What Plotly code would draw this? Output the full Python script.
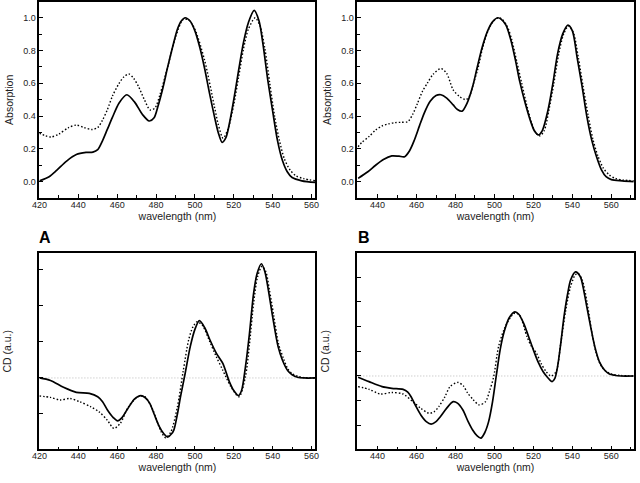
import plotly.graph_objects as go

# ---------------- data ----------------
# Panel A absorption
absA_sol_wl = [420, 425, 429, 434, 439, 444, 447.5, 450, 452.5, 455, 457.5, 461, 465, 469, 473, 476.5, 479, 481, 483.5, 486, 488.5, 491, 493, 495, 497.5, 500, 502.5, 505, 507.5, 510, 512, 514, 516, 518, 520, 522.5, 525, 527.5, 530.5, 533, 535, 537.5, 540, 542.5, 545, 547.5, 550, 555, 562]
absA_sol = [0.005, 0.03, 0.07, 0.125, 0.165, 0.178, 0.18, 0.195, 0.25, 0.32, 0.39, 0.48, 0.53, 0.485, 0.41, 0.37, 0.39, 0.46, 0.57, 0.70, 0.82, 0.93, 0.98, 1.0, 0.98, 0.92, 0.82, 0.69, 0.54, 0.40, 0.30, 0.24, 0.27, 0.37, 0.50, 0.68, 0.85, 0.97, 1.045, 0.98, 0.84, 0.62, 0.43, 0.25, 0.13, 0.06, 0.025, 0.005, -0.005]
absA_dot_wl = [420, 423, 426, 430, 435, 439, 443, 447, 450, 452.5, 455, 457.5, 461, 463.5, 466, 468.5, 471, 474, 477, 479.5, 482, 486, 490, 494, 497, 500, 505, 510, 512, 514.5, 517, 520, 522.5, 525, 527.5, 531, 533.5, 536, 538.5, 541, 543.5, 546, 549, 552, 556, 562]
absA_dot = [0.295, 0.28, 0.272, 0.29, 0.33, 0.345, 0.33, 0.318, 0.33, 0.376, 0.44, 0.52, 0.60, 0.64, 0.657, 0.63, 0.58, 0.50, 0.437, 0.45, 0.53, 0.70, 0.88, 0.99, 0.985, 0.93, 0.74, 0.46, 0.35, 0.265, 0.32, 0.47, 0.64, 0.81, 0.93, 1.0, 0.95, 0.81, 0.60, 0.40, 0.25, 0.14, 0.07, 0.035, 0.018, 0.005]

# Panel B absorption
absB_sol_wl = [430, 435, 439, 443, 447.3, 451, 453.9, 456.5, 458.9, 461.5, 463.9, 467, 470, 472.5, 475.5, 478.8, 481, 483.4, 486, 488.8, 491, 493.7, 496.5, 499, 501.7, 503.5, 505.9, 508.5, 510.8, 513, 515.8, 518.5, 520.5, 522.5, 524.5, 527.5, 530, 532.4, 535, 537.7, 540, 542.4, 545, 547.4, 550, 552.4, 555, 557.3, 560, 565.6, 571.5]
absB_sol = [0.02, 0.06, 0.10, 0.135, 0.157, 0.155, 0.152, 0.19, 0.254, 0.34, 0.417, 0.49, 0.525, 0.53, 0.51, 0.468, 0.44, 0.43, 0.48, 0.58, 0.69, 0.82, 0.92, 0.975, 1.0, 0.99, 0.955, 0.86, 0.74, 0.61, 0.478, 0.37, 0.31, 0.285, 0.31, 0.437, 0.60, 0.78, 0.90, 0.955, 0.92, 0.76, 0.58, 0.40, 0.25, 0.152, 0.07, 0.03, 0.012, 0.005, 0.0]
absB_dot_wl = [430, 432, 435.6, 439, 442.3, 445.5, 448.9, 452, 455.5, 458, 460.5, 463, 465.5, 468.5, 472.5, 475.5, 478.8, 482, 485.4, 487.5, 489, 491.5, 494, 497, 499.5, 502, 504, 506.5, 509, 511.5, 514, 516.5, 519, 521, 523.3, 525.5, 528, 530.5, 533, 535.5, 538, 540.5, 543, 545.5, 548, 550.5, 553, 556, 559, 562, 566, 571.5]
absB_dot = [0.213, 0.24, 0.275, 0.315, 0.34, 0.352, 0.36, 0.362, 0.366, 0.41, 0.478, 0.55, 0.60, 0.655, 0.69, 0.66, 0.56, 0.52, 0.50, 0.53, 0.59, 0.69, 0.82, 0.93, 0.98, 1.0, 0.99, 0.95, 0.86, 0.73, 0.60, 0.47, 0.36, 0.30, 0.28, 0.31, 0.44, 0.60, 0.78, 0.90, 0.95, 0.91, 0.76, 0.58, 0.41, 0.26, 0.16, 0.08, 0.04, 0.02, 0.01, 0.005]

# Panel A CD (arbitrary units)
cdA_sol_wl = [420, 425.7, 432.4, 439, 445.7, 450, 452.5, 455, 458, 460.2, 462.5, 465, 469, 472.2, 474.5, 476.7, 479, 481.7, 484, 486, 488, 489.2, 491, 492.6, 495, 497.6, 500, 502.3, 505, 507.7, 511, 514.3, 517.7, 520, 522.4, 524, 526, 528, 530.2, 532, 534.2, 536, 537.8, 540, 542.8, 545, 547.8, 550, 552.8, 556, 562]
cdA_sol = [0.0, -0.07, -0.26, -0.40, -0.43, -0.52, -0.66, -0.89, -1.10, -1.19, -1.10, -0.89, -0.58, -0.49, -0.55, -0.70, -1.0, -1.35, -1.55, -1.64, -1.55, -1.44, -1.0, -0.52, 0.13, 0.87, 1.35, 1.59, 1.40, 1.06, 0.69, 0.41, -0.10, -0.35, -0.49, -0.35, 0.31, 1.2, 2.35, 2.9, 3.17, 2.95, 2.44, 1.7, 0.87, 0.5, 0.2, 0.09, 0.02, 0.0, 0.0]
cdA_dot_wl = [420, 425.7, 430.7, 435.7, 440.7, 446.5, 450.7, 454.9, 458.3, 461.6, 465.8, 470.8, 474.2, 478.4, 482.6, 485, 487.6, 491, 494, 496.8, 499, 501.2, 504, 507.7, 511, 514.3, 518.5, 522.7, 526, 528, 530.2, 532.2, 534.5, 536.5, 538.3, 540.5, 543, 545.5, 547.8, 550, 552.8, 556, 562]
cdA_dot = [-0.50, -0.54, -0.61, -0.57, -0.66, -0.80, -0.94, -1.17, -1.40, -1.26, -0.80, -0.52, -0.52, -0.89, -1.49, -1.66, -1.50, -0.80, 0.2, 1.06, 1.42, 1.56, 1.45, 1.0, 0.59, 0.22, -0.24, -0.52, 0.04, 0.9, 2.07, 2.8, 3.10, 2.95, 2.45, 1.75, 0.95, 0.55, 0.25, 0.12, 0.05, 0.01, 0.0]

# Panel B CD (arbitrary units)
cdB_sol_wl = [430, 435.6, 442.3, 447.3, 453.1, 455.5, 457.2, 459.5, 462.2, 465, 467.5, 470, 472.2, 475.5, 478.8, 481, 483.8, 486.5, 488.8, 491, 493, 495, 497, 499, 501, 503, 505, 507.5, 510.5, 512.5, 515, 517.5, 520, 522.5, 525, 527.5, 529.6, 531, 532.4, 534, 535.7, 537.5, 539.1, 541.6, 544.1, 546, 547.4, 549.5, 551.5, 554, 556.5, 559, 561.5, 565, 571.5]
cdB_sol = [-0.05, -0.23, -0.43, -0.50, -0.54, -0.65, -0.84, -1.2, -1.58, -1.85, -1.95, -1.85, -1.65, -1.3, -1.04, -1.1, -1.38, -1.85, -2.19, -2.42, -2.52, -2.3, -1.85, -1.05, 0.05, 1.1, 1.8, 2.35, 2.6, 2.5, 2.13, 1.6, 1.05, 0.55, 0.17, -0.08, -0.23, -0.1, 0.38, 1.3, 2.4, 3.3, 3.89, 4.22, 4.02, 3.4, 2.81, 1.95, 1.19, 0.55, 0.24, 0.08, 0.03, 0.0, 0.0]
cdB_dot_wl = [430, 435.6, 441.4, 447.3, 453.1, 458.1, 462.2, 466.4, 469, 471.4, 474.5, 477.2, 481.3, 484, 486.3, 489, 492.1, 495.4, 497.5, 499.6, 502.1, 505, 508, 510.5, 513, 516.7, 519, 521.6, 524, 526.6, 529, 531.6, 534, 536.6, 539, 541.5, 543, 545, 547.5, 549.9, 552, 554.5, 557, 560, 565, 571.5]
cdB_dot = [-0.43, -0.54, -0.73, -0.67, -0.73, -1.04, -1.31, -1.51, -1.45, -1.24, -0.85, -0.43, -0.26, -0.4, -0.70, -0.95, -1.17, -1.04, -0.6, -0.03, 1.19, 1.9, 2.35, 2.55, 2.45, 1.59, 1.2, 0.92, 0.5, 0.17, 0.0, 0.17, 1.3, 2.67, 3.6, 4.1, 4.15, 3.9, 3.0, 1.8, 1.0, 0.45, 0.2, 0.08, 0.02, 0.0]

panel_labels = ["A", "B"]
x_title = "wavelength (nm)"
abs_title = "Absorption"
cd_title = "CD (a.u.)"

# ---------------- figure ----------------
W, H = 640, 483
fig = go.Figure()

def px_x(p):
    return p / W

def px_y(p):
    return (H - p) / H

dom_x_left = [px_x(32), px_x(313.3)]
dom_x_right = [px_x(356), px_x(637.7)]
dom_y_top = [px_y(198), px_y(1.7)]
dom_y_bot = [px_y(449.3), px_y(253.3)]

FONT = "Liberation Sans, Arial, sans-serif"
sol_line = dict(color="black", width=1.7, shape="spline", smoothing=0.8)
dot_line = dict(color="black", width=1.4, dash="1.5px,2px", shape="spline", smoothing=0.8)
zero_line = dict(color="#b8b8b8", width=1, dash="1px,2px")

panels = [
    ("x", "y", absA_sol_wl, absA_sol, absA_dot_wl, absA_dot, [420, 562], [-0.1, 1.098], dom_x_left, dom_y_top, False),
    ("x2", "y2", absB_sol_wl, absB_sol, absB_dot_wl, absB_dot, [429.6, 571.5], [-0.1, 1.098], dom_x_right, dom_y_top, False),
    ("x3", "y3", cdA_sol_wl, cdA_sol, cdA_dot_wl, cdA_dot, [420, 562], [-1.98, 3.46], dom_x_left, dom_y_bot, True),
    ("x4", "y4", cdB_sol_wl, cdB_sol, cdB_dot_wl, cdB_dot, [429.6, 571.5], [-2.97, 4.97], dom_x_right, dom_y_bot, True),
]

for i, (xa, ya, swl, sv, dwl, dv, xr, yr, xd, yd, is_cd) in enumerate(panels):
    if is_cd:
        fig.add_trace(go.Scatter(x=[xr[0], xr[1]], y=[0, 0], mode="lines", line=zero_line,
                                 xaxis=xa, yaxis=ya, showlegend=False, hoverinfo="skip"))
    fig.add_trace(go.Scatter(x=dwl, y=dv, mode="lines", line=dot_line, xaxis=xa, yaxis=ya, showlegend=False))
    fig.add_trace(go.Scatter(x=swl, y=sv, mode="lines", line=sol_line, xaxis=xa, yaxis=ya, showlegend=False))

    n = "" if i == 0 else str(i + 1)
    xaxis = dict(
        domain=xd, range=xr, anchor=ya, showline=True, mirror=True, linecolor="black", linewidth=1.5,
        ticks="inside", ticklen=4, tickwidth=1, tickcolor="black", dtick=20, tick0=0,
        minor=dict(dtick=10, tick0=0, ticks="inside", ticklen=3, tickcolor="black"),
        showgrid=False, zeroline=False, ticklabelstandoff=-3,
        tickfont=dict(family=FONT, size=9, color="#222"),
        title=dict(text=x_title, font=dict(family=FONT, size=10.5, color="#222"), standoff=4),
    )
    if is_cd:
        yaxis = dict(
            domain=yd, range=yr, anchor=xa, showline=True, mirror=True, linecolor="black", linewidth=1.5,
            ticks="inside", ticklen=4, tickwidth=1, tickcolor="black", dtick=1, tick0=0,
            showticklabels=False, showgrid=False, zeroline=False,
            title=dict(text=cd_title, font=dict(family=FONT, size=10.5, color="#222"), standoff=24),
        )
    else:
        yaxis = dict(
            domain=yd, range=yr, anchor=xa, showline=True, mirror=True, linecolor="black", linewidth=1.5,
            ticks="inside", ticklen=4, tickwidth=1, tickcolor="black", dtick=0.2, tick0=0, tickformat=".1f",
            minor=dict(dtick=0.1, tick0=0, ticks="inside", ticklen=3, tickcolor="black"),
            showgrid=False, zeroline=False,
            tickfont=dict(family=FONT, size=9, color="#222"),
            title=dict(text=abs_title, font=dict(family=FONT, size=10.5, color="#222"), standoff=8),
        )
    fig.layout["xaxis" + n] = xaxis
    fig.layout["yaxis" + n] = yaxis

fig.add_annotation(text="<b>%s</b>" % panel_labels[0], x=px_x(37.5), y=px_y(238), xref="paper", yref="paper",
                   showarrow=False, font=dict(family=FONT, size=16, color="black"), xanchor="center", yanchor="middle")
fig.add_annotation(text="<b>%s</b>" % panel_labels[1], x=px_x(362.5), y=px_y(238), xref="paper", yref="paper",
                   showarrow=False, font=dict(family=FONT, size=16, color="black"), xanchor="center", yanchor="middle")

fig.update_layout(width=W, height=H, margin=dict(l=0, r=0, t=0, b=0), paper_bgcolor="white",
                  plot_bgcolor="white", showlegend=False)

fig.write_html("out.html", config={"displayModeBar": False},
               post_script="document.body.style.margin='0px';document.body.style.overflow='hidden';")
